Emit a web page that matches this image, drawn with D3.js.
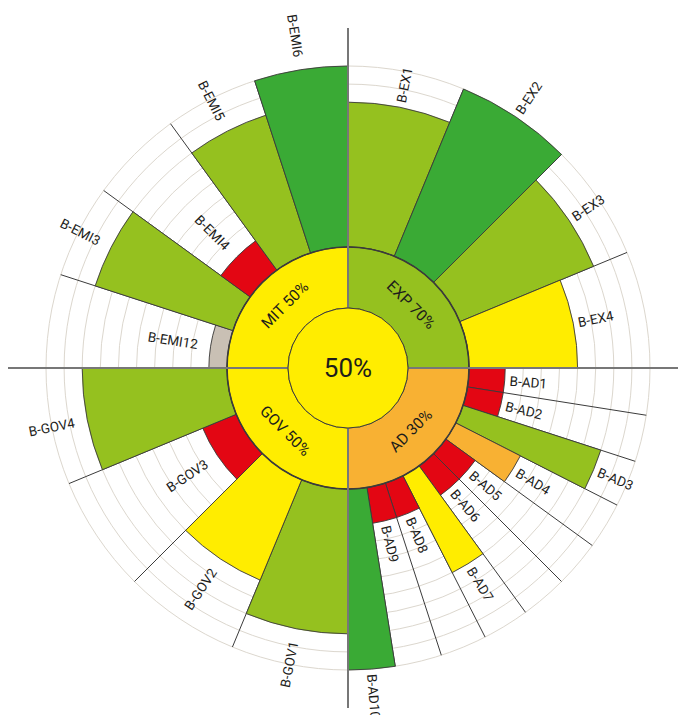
<!DOCTYPE html>
<html>
<head>
<meta charset="utf-8">
<script src="https://cdn.jsdelivr.net/npm/d3@7"></script>
<style>
  html, body { margin: 0; padding: 0; background: #fff; }
  svg { display: block; font-family: Roboto, "Open Sans", sans-serif; }
</style>
</head>
<body>
<div id="chart"></div>
<script>
// groups, clockwise from the top
var groupNames = ["EXP", "AD", "GOV", "MIT"];
var groupValues = [70, 30, 50, 50];
var totalValue = 50;

// bars, clockwise from the top, per group
var barLabels = [
  ["B-EX1", "B-EX2", "B-EX3", "B-EX4"],
  ["B-AD1", "B-AD2", "B-AD3", "B-AD4", "B-AD5", "B-AD6", "B-AD7", "B-AD8", "B-AD9", "B-AD10"],
  ["B-GOV1", "B-GOV2", "B-GOV3", "B-GOV4"],
  ["B-EMI12", "B-EMI3", "B-EMI4", "B-EMI5", "B-EMI6"]
];
var barValues = [
  [80, 100, 80, 60],
  [20, 20, 80, 40, 20, 20, 60, 20, 20, 100],
  [80, 60, 20, 80],
  [10, 80, 20, 80, 100]
];
var gridTicks = [10, 20, 30, 40, 50, 60, 70, 80, 90, 100];

const w = 678;
const h = 715;
const cx = 348, cy = 368;
const rInner = 60, rRing = 121, rMax = 302;

var color = d3.scaleThreshold()
  .domain([15, 25, 45, 65, 90])
  .range(["#c9c0b4", "#e30613", "#f8b133", "#ffed00", "#95c11f", "#3aaa35"]);

var rScale = d3.scaleLinear().domain([0, 100]).range([rRing, rMax]);

var svg = d3.select("#chart").append("svg")
  .attr("width", w)
  .attr("height", h);

var g = svg.append("g").attr("transform", "translate(" + cx + "," + cy + ")");

// flatten bars with their angles
var bars = [];
groupNames.forEach(function (name, gi) {
  var a0 = gi * Math.PI / 2;
  var n = barLabels[gi].length;
  var step = (Math.PI / 2) / n;
  barLabels[gi].forEach(function (lab, i) {
    bars.push({
      label: lab,
      value: barValues[gi][i],
      start: a0 + i * step,
      end: a0 + (i + 1) * step
    });
  });
});

// grid circles
g.selectAll("circle.grid")
  .data(gridTicks)
  .enter()
  .append("circle")
  .attr("class", "grid")
  .attr("r", d => rScale(d))
  .attr("fill", "none")
  .attr("stroke", "#dcd7ce")
  .attr("stroke-width", 1);

// separators between bars
g.selectAll("line.sep")
  .data(bars)
  .enter()
  .append("line")
  .attr("class", "sep")
  .attr("x1", d => rRing * Math.sin(d.start))
  .attr("y1", d => -rRing * Math.cos(d.start))
  .attr("x2", d => rMax * Math.sin(d.start))
  .attr("y2", d => -rMax * Math.cos(d.start))
  .attr("stroke", "#3b3b3b")
  .attr("stroke-width", 1);

var barArc = d3.arc()
  .innerRadius(rRing)
  .outerRadius(d => rScale(d.value))
  .startAngle(d => d.start)
  .endAngle(d => d.end);

g.selectAll("path.bar")
  .data(bars)
  .enter()
  .append("path")
  .attr("class", "bar")
  .attr("d", barArc)
  .attr("fill", d => color(d.value))
  .attr("stroke", "#3b3b3b")
  .attr("stroke-width", 0.9);

// group ring
var groups = groupNames.map((n, i) => ({
  name: n, value: groupValues[i],
  start: i * Math.PI / 2, end: (i + 1) * Math.PI / 2
}));

var ringArc = d3.arc()
  .innerRadius(rInner)
  .outerRadius(rRing)
  .startAngle(d => d.start)
  .endAngle(d => d.end);

g.selectAll("path.ring")
  .data(groups)
  .enter()
  .append("path")
  .attr("class", "ring")
  .attr("d", ringArc)
  .attr("fill", d => color(d.value))
  .attr("stroke", "#3b3b3b")
  .attr("stroke-width", 1);

g.append("circle")
  .attr("r", rRing)
  .attr("fill", "none")
  .attr("stroke", "#3b3b3b")
  .attr("stroke-width", 1.6);

// axis lines
var axisLen = 340;
[[0, -1], [1, 0], [0, 1], [-1, 0]].forEach(function (v) {
  g.append("line")
    .attr("x1", 0).attr("y1", 0)
    .attr("x2", v[0] * axisLen).attr("y2", v[1] * axisLen)
    .attr("stroke", "#777")
    .attr("stroke-width", 2);
});

// centre
g.append("circle")
  .attr("r", rInner)
  .attr("fill", color(totalValue))
  .attr("stroke", "#3b3b3b")
  .attr("stroke-width", 1);

g.append("text")
  .attr("text-anchor", "middle")
  .attr("dominant-baseline", "central")
  .attr("font-size", 26)
  .attr("fill", "#1d1d1b")
  .text(totalValue + "%");

// group labels
g.selectAll("text.group")
  .data(groups)
  .enter()
  .append("text")
  .attr("class", "group")
  .attr("text-anchor", "middle")
  .attr("dominant-baseline", "central")
  .attr("font-size", 15.5)
  .attr("fill", "#1d1d1b")
  .attr("transform", function (d) {
    var a = (d.start + d.end) / 2;
    var deg = a * 180 / Math.PI;
    var rot = (deg < 90 || deg > 270) ? deg : deg - 180;
    if (rot > 180) rot -= 360;
    return "translate(" + (89 * Math.sin(a)) + "," + (-89 * Math.cos(a)) + ") rotate(" + rot + ")";
  })
  .text(d => d.name + " " + d.value + "%");

// bar labels
g.selectAll("text.barlabel")
  .data(bars)
  .enter()
  .append("text")
  .attr("class", "barlabel")
  .attr("dominant-baseline", "central")
  .attr("font-size", 13.5)
  .attr("fill", "#1d1d1b")
  .attr("text-anchor", d => ((d.start + d.end) / 2 < Math.PI ? "start" : "end"))
  .attr("transform", function (d) {
    var a = (d.start + d.end) / 2;
    var deg = a * 180 / Math.PI;
    var right = a < Math.PI;
    var r = rScale(d.value) + (right ? 5 : 13);
    var rot = right ? deg - 90 : deg + 90 - 360;
    return "translate(" + (r * Math.sin(a)) + "," + (-r * Math.cos(a)) + ") rotate(" + rot + ")";
  })
  .text(d => d.label);
</script>
</body>
</html>
